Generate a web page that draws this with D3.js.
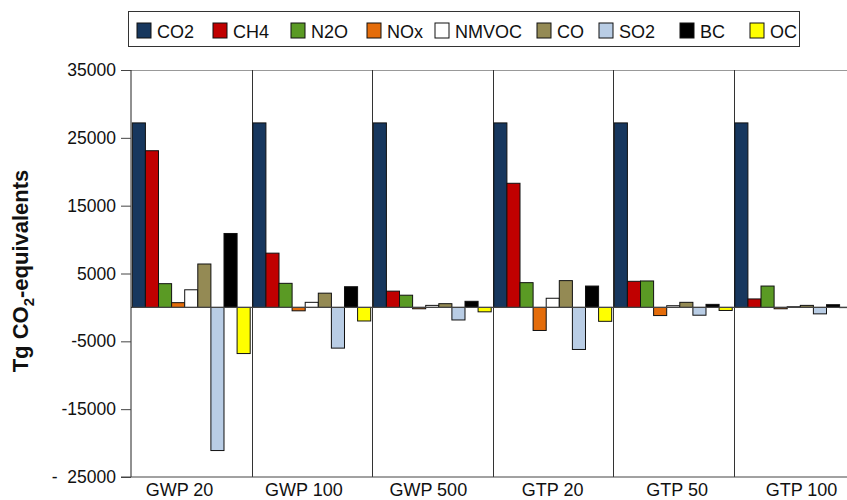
<!DOCTYPE html>
<html>
<head>
<meta charset="utf-8">
<script src="https://cdn.jsdelivr.net/npm/d3@7"></script>
<style>
  body { margin: 0; background: #fff; }
  svg { display: block; font-family: "Liberation Sans", Arial, sans-serif; }
</style>
</head>
<body>
<div id="chart"></div>
<script>
// metrics on the x axis
const metrics = ["GWP 20", "GWP 100", "GWP 500", "GTP 20", "GTP 50", "GTP 100"];
// species (legend order)
const species = ["CO2", "CH4", "N2O", "NOx", "NMVOC", "CO", "SO2", "BC", "OC"];
const colors = ["#17375e", "#c00000", "#5a9a24", "#e46c0a", "#ffffff", "#948a54", "#b9cde5", "#000000", "#ffff00"];

// Tg CO2-equivalents per species, one value per metric
const co2   = [27200, 27200, 27200, 27200, 27200, 27200];
const ch4   = [23100, 8000, 2400, 18300, 3850, 1250];
const n2o   = [3500, 3550, 1800, 3650, 3900, 3150];
const nox   = [700, -500, -200, -3400, -1200, -200];
const nmvoc = [2600, 750, 300, 1350, 250, 100];
const co    = [6400, 2100, 550, 3950, 750, 300];
const so2   = [-21100, -6000, -1850, -6200, -1150, -950];
const bc    = [10900, 3050, 900, 3150, 450, 400];
const oc    = [-6800, -2000, -650, -2050, -450, -30];

const yTicks = [-25000, -15000, -5000, 5000, 15000, 25000, 35000];

const series = [co2, ch4, n2o, nox, nmvoc, co, so2, bc, oc];
const data = [];
metrics.forEach((m, i) => {
  species.forEach((s, j) => data.push({metric: m, species: s, value: series[j][i]}));
});

const width = 847, height = 500;
const margin = {top: 70, right: -7, bottom: 23, left: 131};

const svg = d3.select("#chart").append("svg")
  .attr("width", width)
  .attr("height", height);

const x = d3.scaleBand()
  .domain(metrics)
  .range([margin.left, width - margin.right]);

// category labels sit on a slightly wider pitch than the bars in the original
const xLabel = d3.scalePoint()
  .domain(metrics)
  .range([179, 801]);

const xs = d3.scaleBand()
  .domain(species)
  .range([0, x.bandwidth()])
  .paddingOuter(0.1);

const y = d3.scaleLinear()
  .domain([-25000, 35000])
  .range([height - margin.bottom, margin.top]);

const color = d3.scaleOrdinal(species, colors);

// plot frame: top border and category dividers
svg.append("line")
  .attr("x1", margin.left).attr("x2", width)
  .attr("y1", y(35000) + 0.5).attr("y2", y(35000) + 0.5)
  .attr("stroke", "#999");

svg.append("g")
  .selectAll("line")
  .data(metrics.slice(1))
  .join("line")
  .attr("x1", d => Math.round(x(d)) + 0.5)
  .attr("x2", d => Math.round(x(d)) + 0.5)
  .attr("y1", y(35000))
  .attr("y2", y(-25000))
  .attr("stroke", "#333");

// bars
svg.append("g")
  .selectAll("rect")
  .data(data)
  .join("rect")
  .attr("x", d => x(d.metric) + xs(d.species))
  .attr("y", d => y(Math.max(0, d.value)))
  .attr("width", xs.bandwidth())
  .attr("height", d => Math.abs(y(d.value) - y(0)))
  .attr("fill", d => color(d.species))
  .attr("stroke", "#111")
  .attr("stroke-width", 1);

// zero line
svg.append("line")
  .attr("x1", margin.left).attr("x2", width)
  .attr("y1", y(0)).attr("y2", y(0))
  .attr("stroke", "#444")
  .attr("stroke-width", 1.2);

// y axis
const yAxis = g => g
  .attr("transform", `translate(${margin.left},0)`)
  .call(d3.axisLeft(y).tickValues(yTicks).tickSize(10).tickPadding(5)
    .tickFormat(d => d === -25000 ? "-\u00a0\u00a025000" : String(d)))
  .call(g => g.select(".domain").attr("stroke", "#222").attr("d", `M0,${y(35000)}V${y(-25000)}`))
  .call(g => g.selectAll(".tick line").attr("stroke", "#444"))
  .call(g => g.selectAll("text")
    .attr("font-size", 17.5)
    .attr("fill", "#111"));

svg.append("g").call(yAxis);

// x axis
svg.append("line")
  .attr("x1", margin.left - 10).attr("x2", width)
  .attr("y1", y(-25000)).attr("y2", y(-25000))
  .attr("stroke", "#444");

const xAxis = g => g
  .attr("transform", `translate(0,${y(-25000)})`)
  .call(d3.axisBottom(xLabel).tickSize(0).tickPadding(6))
  .call(g => g.select(".domain").remove())
  .call(g => g.selectAll("text").attr("font-size", 18).attr("fill", "#111"));

svg.append("g").call(xAxis);

// y axis title
svg.append("text")
  .attr("transform", `translate(28,${271}) rotate(-90)`)
  .attr("text-anchor", "middle")
  .attr("font-size", 22)
  .attr("font-weight", "bold")
  .attr("fill", "#111")
  .call(t => {
    t.append("tspan").text("Tg CO");
    t.append("tspan").text("2").attr("font-size", 15).attr("dy", 6);
    t.append("tspan").text("-equivalents").attr("dy", -6);
  });

// legend
const legendX = [137, 213, 291, 367, 435, 537, 599, 680, 750];
const legend = svg.append("g");
legend.append("rect")
  .attr("x", 128.5).attr("y", 11.5)
  .attr("width", 671).attr("height", 35)
  .attr("fill", "#fff")
  .attr("stroke", "#333");

const item = legend.selectAll("g")
  .data(species)
  .join("g")
  .attr("transform", (d, i) => `translate(${legendX[i]},23)`);

item.append("rect")
  .attr("width", 14).attr("height", 15)
  .attr("fill", d => color(d))
  .attr("stroke", "#111");

item.append("text")
  .attr("x", 20).attr("y", 15)
  .attr("font-size", 18)
  .attr("fill", "#111")
  .text(d => d);
</script>
</body>
</html>
